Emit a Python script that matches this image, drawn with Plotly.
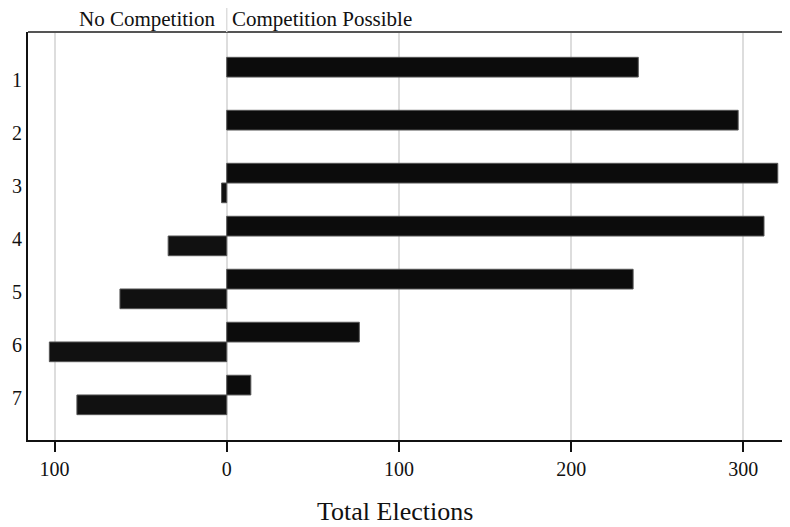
import plotly.graph_objects as go

categories = [1, 2, 3, 4, 5, 6, 7]
competition_possible = [239, 297, 320, 312, 236, 77, 14]
no_competition = [0, 0, 3, 34, 62, 103, 87]
x_tick_vals = [-100, 0, 100, 200, 300]
x_tick_text = ["100", "0", "100", "200", "300"]

FONT = "Liberation Serif"

# page body has an 8px margin: figure is sized to fill the remaining window
W, H = 782, 519
ML, MT, MB, MR = 20, 24, 87, 0

fig = go.Figure()
fig.add_trace(go.Bar(
    y=categories, x=competition_possible, orientation="h",
    name="Competition Possible",
    marker=dict(color="#0c0c0c", line=dict(color="#555555", width=1)),
))
fig.add_trace(go.Bar(
    y=categories, x=[-v if v else None for v in no_competition], orientation="h",
    name="No Competition",
    marker=dict(color="#111111", line=dict(color="#555555", width=1)),
))

plot_w = W - ML - MR
plot_h = H - MT - MB

fig.update_layout(
    width=W, height=H,
    margin=dict(l=ML, r=MR, t=MT, b=MB, autoexpand=False),
    paper_bgcolor="white", plot_bgcolor="white",
    barmode="group", bargap=0.256, bargroupgap=0,
    showlegend=False,
    font=dict(family=FONT, size=20, color="#111111"),
    xaxis=dict(
        range=[-115.4, 327.1],
        tickvals=x_tick_vals, ticktext=x_tick_text,
        showgrid=True, gridcolor="#dddddd", gridwidth=1.5,
        zeroline=False, automargin=False,
        showline=True, linecolor="#111111", linewidth=2,
        ticks="outside", ticklen=10, tickcolor="#111111", tickwidth=1.5,
        tickfont=dict(family=FONT, size=20, color="#111111"),
    ),
    yaxis=dict(
        range=[7.85, 0.15],
        tickvals=categories, ticktext=[str(c) for c in categories],
        showgrid=False, zeroline=False, automargin=False,
        showline=True, linecolor="#111111", linewidth=2,
        ticks="", ticklabelstandoff=0, ticklabelshift=-3,
        tickfont=dict(family=FONT, size=20, color="#111111"),
    ),
    shapes=[
        dict(type="line", xref="paper", yref="paper", x0=0, x1=1, y0=1, y1=1,
             line=dict(color="#555555", width=2)),
        dict(type="line", xref="x", yref="paper", x0=0, x1=0, y0=1, y1=1.06,
             line=dict(color="#dddddd", width=1.5)),
    ],
    annotations=[
        dict(text="No Competition", x=0, xref="x", xanchor="right", xshift=-10,
             y=1, yref="paper", yanchor="bottom", yshift=-1, showarrow=False,
             font=dict(family=FONT, size=21, color="#111111")),
        dict(text="Competition Possible", x=0, xref="x", xanchor="left", xshift=3,
             y=1, yref="paper", yanchor="bottom", yshift=-1, showarrow=False,
             font=dict(family=FONT, size=21, color="#111111")),
        dict(text="Total Elections",
             x=(394.5 - 8 - ML) / plot_w, xref="paper", xanchor="center",
             y=(H - MB - (511 - 8)) / plot_h, yref="paper", yanchor="middle",
             showarrow=False,
             font=dict(family=FONT, size=26, color="#111111")),
    ],
)

fig.write_html("out.html")
